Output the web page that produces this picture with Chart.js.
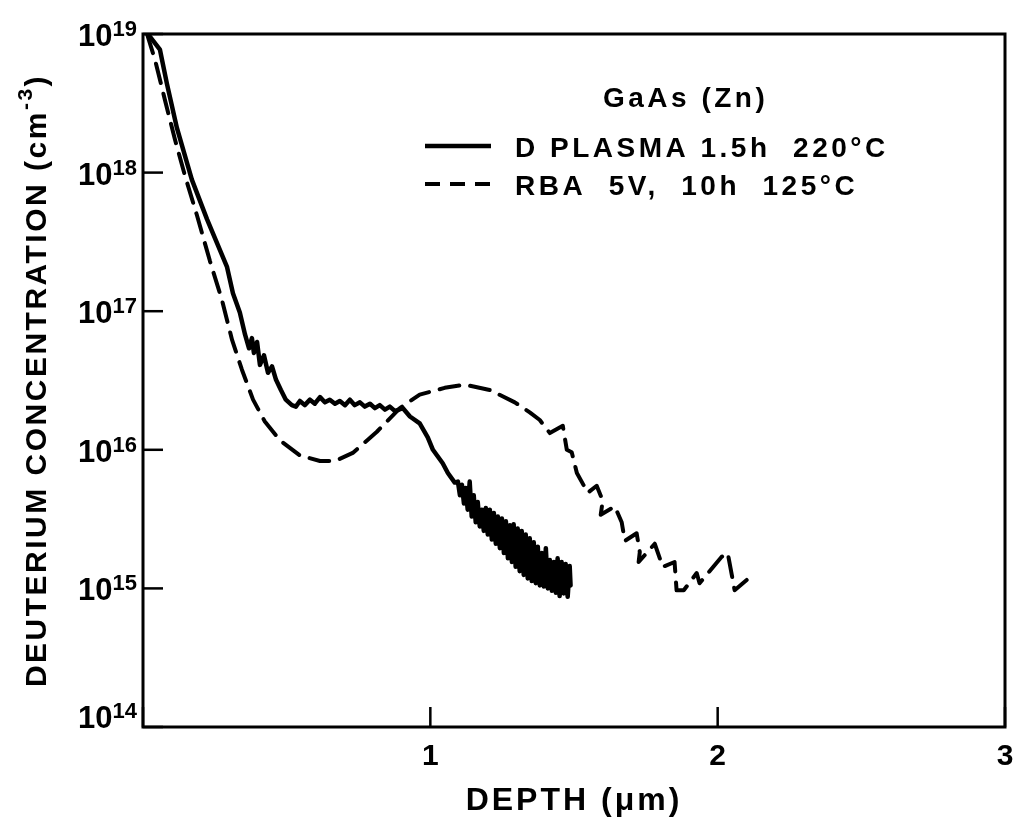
<!DOCTYPE html>
<html>
<head>
<meta charset="utf-8">
<script src="https://cdn.jsdelivr.net/npm/chart.js@4/dist/chart.umd.min.js"></script>
<style>
  html, body { margin: 0; padding: 0; background: #fff; }
  #wrap { width: 1016px; height: 824px; position: relative; }
</style>
</head>
<body>
<div id="wrap"><canvas id="chart"></canvas></div>
<script>
// D plasma 1.5h 220°C (solid) - depth in µm, concentration in cm^-3
const plasmaDepth = [
  0.017, 0.059, 0.083, 0.118, 0.170, 0.223, 0.292, 0.313, 0.337, 0.355,
  0.369, 0.379, 0.386, 0.397, 0.407, 0.421, 0.435, 0.449, 0.463, 0.480,
  0.497, 0.518, 0.532, 0.546, 0.563, 0.581, 0.598, 0.616, 0.633, 0.650,
  0.668, 0.685, 0.703, 0.720, 0.737, 0.755, 0.772, 0.790, 0.807, 0.824,
  0.842, 0.859, 0.877, 0.904, 0.929, 0.963, 0.991, 1.009, 1.043, 1.061,
  1.085, 1.096, 1.103, 1.110, 1.117, 1.123, 1.130, 1.137, 1.144, 1.151,
  1.158, 1.165, 1.172, 1.179, 1.186, 1.193, 1.200, 1.207, 1.214, 1.221,
  1.228, 1.235, 1.242, 1.249, 1.256, 1.263, 1.270, 1.277, 1.284, 1.290,
  1.297, 1.304, 1.311, 1.318, 1.325, 1.332, 1.339, 1.346, 1.353, 1.360,
  1.367, 1.374, 1.381, 1.388, 1.395, 1.402, 1.409, 1.416, 1.423, 1.430,
  1.437, 1.443, 1.450, 1.457, 1.464, 1.471, 1.478, 1.485, 1.488
];
const plasmaConc = [
  1.0e19, 7.7e18, 4.4e18, 2.1e18, 8.9e17, 4.6e17, 2.1e17, 1.35e17, 9.8e16, 6.8e16,
  5.4e16, 6.4e16, 5.0e16, 6.0e16, 4.1e16, 4.8e16, 3.6e16, 4.0e16, 3.2e16, 2.7e16,
  2.3e16, 2.1e16, 2.05e16, 2.25e16, 2.1e16, 2.3e16, 2.15e16, 2.4e16, 2.2e16, 2.3e16,
  2.15e16, 2.25e16, 2.1e16, 2.3e16, 2.1e16, 2.2e16, 2.05e16, 2.15e16, 2.0e16, 2.1e16,
  1.95e16, 2.05e16, 1.9e16, 2.0e16, 1.74e16, 1.55e16, 1.23e16, 1.0e16, 8.0e15, 6.8e15,
  5.8e15, 5.9e15, 4.7e15, 5.6e15, 4.1e15, 5.3e15, 3.7e15, 5.9e15, 3.3e15, 4.7e15,
  3.0e15, 4.2e15, 2.8e15, 3.7e15, 2.6e15, 3.8e15, 2.45e15, 3.7e15, 2.25e15, 3.5e15,
  2.1e15, 3.3e15, 1.95e15, 3.2e15, 1.8e15, 3.05e15, 1.65e15, 2.85e15, 1.55e15, 2.9e15,
  1.43e15, 2.7e15, 1.33e15, 2.6e15, 1.25e15, 2.45e15, 1.18e15, 2.3e15, 1.13e15, 2.15e15,
  1.09e15, 2.0e15, 1.05e15, 1.8e15, 1.03e15, 1.95e15, 1.0e15, 1.6e15, 9.6e14, 1.55e15,
  9.3e14, 1.65e15, 8.8e14, 1.55e15, 9.2e14, 1.5e15, 8.7e14, 1.45e15, 1.05e15
];

// RBA 5V, 10h 125°C (dashed)
const rbaDepth = [
  0.014, 0.042, 0.077, 0.111, 0.146, 0.188, 0.233, 0.275, 0.310, 0.344,
  0.383, 0.424, 0.477, 0.546, 0.616, 0.668, 0.730, 0.814, 0.894, 0.963,
  1.050, 1.120, 1.207, 1.294, 1.346, 1.381, 1.416, 1.461, 1.475, 1.492,
  1.510, 1.548, 1.579, 1.600, 1.593, 1.642, 1.666, 1.677, 1.718, 1.729,
  1.725, 1.781, 1.809, 1.850, 1.857, 1.882, 1.927, 1.937, 2.014, 2.035,
  2.059, 2.101
];
const rbaConc = [
  1.0e19, 6.5e18, 3.3e18, 1.74e18, 9.5e17, 4.9e17, 2.3e17, 1.2e17, 6.2e16, 3.8e16,
  2.3e16, 1.6e16, 1.17e16, 9.1e15, 8.3e15, 8.3e15, 9.5e15, 1.35e16, 2.0e16, 2.5e16,
  2.8e16, 2.95e16, 2.7e16, 2.2e16, 1.86e16, 1.64e16, 1.32e16, 1.49e16, 1.0e16, 9.6e15,
  6.8e15, 4.9e15, 5.5e15, 4.3e15, 3.4e15, 3.9e15, 3.0e15, 2.2e15, 2.5e15, 1.83e15,
  1.55e15, 2.1e15, 1.43e15, 1.55e15, 9.7e14, 9.7e14, 1.29e15, 1.09e15, 1.69e15, 1.8e15,
  9.7e14, 1.15e15
];

const yTickValues = [1e14, 1e15, 1e16, 1e17, 1e18, 1e19];
const xTickValues = [0, 1, 2, 3];
const seriesNames = ["D PLASMA 1.5h  220°C", "RBA  5V,  10h  125°C"];
const legendTitle = "GaAs (Zn)";

const FONT = '"Liberation Sans", Arial, sans-serif';
const DASH = [20, 11];

const toPoints = (xs, ys) => xs.map((x, i) => ({ x: x, y: ys[i] }));

// frame, inward ticks, superscript labels, titles and legend
const decorations = {
  id: "decorations",
  afterDraw(chart) {
    const { ctx, chartArea: a, scales } = chart;
    const xs = scales.x, ys = scales.y;
    ctx.save();
    ctx.strokeStyle = "#000";
    ctx.fillStyle = "#000";
    ctx.lineWidth = 3;
    ctx.setLineDash([]);
    ctx.strokeRect(a.left, a.top, a.right - a.left, a.bottom - a.top);

    // inward tick marks
    ctx.lineWidth = 2.5;
    yTickValues.forEach((v) => {
      const py = ys.getPixelForValue(v);
      ctx.beginPath();
      ctx.moveTo(a.left, py);
      ctx.lineTo(a.left + 20, py);
      ctx.stroke();
    });
    xTickValues.forEach((v) => {
      const px = xs.getPixelForValue(v);
      ctx.beginPath();
      ctx.moveTo(px, a.bottom);
      ctx.lineTo(px, a.bottom - 20);
      ctx.stroke();
    });

    // y tick labels 10^n
    ctx.textBaseline = "alphabetic";
    ctx.textAlign = "right";
    yTickValues.forEach((v) => {
      const py = ys.getPixelForValue(v);
      const exp = String(Math.round(Math.log10(v)));
      const base = Math.min(py + 12, a.bottom + 1);
      const right = a.left - 6;
      ctx.font = "bold 22px " + FONT;
      const supW = ctx.measureText(exp).width;
      ctx.fillText(exp, right, base - 10);
      ctx.font = "bold 31px " + FONT;
      ctx.fillText("10", right - supW, base);
    });

    // x axis title
    ctx.textAlign = "center";
    ctx.letterSpacing = "3px";
    ctx.font = "bold 32px " + FONT;
    ctx.fillText("DEPTH (μm)", (a.left + a.right) / 2, 810);

    // y axis title, rotated, with superscript
    ctx.save();
    ctx.translate(46, (a.top + a.bottom) / 2);
    ctx.rotate(-Math.PI / 2);
    ctx.textAlign = "left";
    ctx.letterSpacing = "2.5px";
    const mainTxt = "DEUTERIUM CONCENTRATION (cm";
    ctx.font = "bold 30px " + FONT;
    const w1 = ctx.measureText(mainTxt).width;
    const w3 = ctx.measureText(")").width;
    ctx.font = "bold 21px " + FONT;
    const w2 = ctx.measureText("-3").width;
    let x0 = -(w1 + w2 + w3) / 2;
    ctx.font = "bold 30px " + FONT;
    ctx.fillText(mainTxt, x0, 0);
    ctx.font = "bold 21px " + FONT;
    ctx.fillText("-3", x0 + w1, -14);
    ctx.font = "bold 30px " + FONT;
    ctx.fillText(")", x0 + w1 + w2, 0);
    ctx.restore();

    // legend
    ctx.textAlign = "left";
    ctx.letterSpacing = "3.5px";
    ctx.font = "bold 28px " + FONT;
    ctx.fillText(legendTitle, a.left + 460, 107);
    const rows = [157, 195];
    chart.data.datasets.forEach((ds, i) => {
      const yMid = rows[i] - 11;
      ctx.lineWidth = ds.borderWidth;
      ctx.setLineDash(ds.legendDash || []);
      ctx.beginPath();
      ctx.moveTo(a.left + 282, yMid);
      ctx.lineTo(a.left + 348, yMid);
      ctx.stroke();
      ctx.setLineDash([]);
      ctx.fillText(ds.label, a.left + 372, rows[i]);
    });
    ctx.restore();
  }
};

const ctx = document.getElementById("chart").getContext("2d");

new Chart(ctx, {
  type: "line",
  data: {
    datasets: [
      {
        label: seriesNames[0],
        data: toPoints(plasmaDepth, plasmaConc),
        borderColor: "#000",
        borderWidth: 4.5,
        pointRadius: 0,
        tension: 0,
        fill: false
      },
      {
        label: seriesNames[1],
        data: toPoints(rbaDepth, rbaConc),
        borderColor: "#000",
        borderWidth: 4,
        borderDash: DASH,
        legendDash: [15, 10],
        pointRadius: 0,
        tension: 0,
        fill: false
      }
    ]
  },
  options: {
    responsive: true,
    maintainAspectRatio: false,
    animation: false,
    devicePixelRatio: 1,
    layout: { padding: { top: 34, right: 11, left: 0, bottom: 0 } },
    elements: { line: { borderJoinStyle: "round", borderCapStyle: "round" } },
    plugins: {
      legend: { display: false },
      tooltip: { enabled: false }
    },
    scales: {
      x: {
        type: "linear",
        min: 0,
        max: 3,
        afterFit: (s) => { s.height = 97; s.paddingLeft = 0; s.paddingRight = 0; },
        afterBuildTicks: (s) => { s.ticks = xTickValues.map((v) => ({ value: v })); },
        grid: { display: false, drawTicks: false },
        border: { display: false },
        ticks: {
          color: "#000",
          padding: 12,
          font: { family: FONT, size: 30, weight: "bold" },
          callback: (v) => (v === 0 ? "" : String(v))
        }
      },
      y: {
        type: "logarithmic",
        min: 1e14,
        max: 1e19,
        afterFit: (s) => { s.width = 143; s.paddingTop = 0; s.paddingBottom = 0; },
        afterBuildTicks: (s) => { s.ticks = yTickValues.map((v) => ({ value: v })); },
        grid: { display: false, drawTicks: false },
        border: { display: false },
        ticks: { display: false }
      }
    }
  },
  plugins: [decorations]
});
</script>
</body>
</html>
